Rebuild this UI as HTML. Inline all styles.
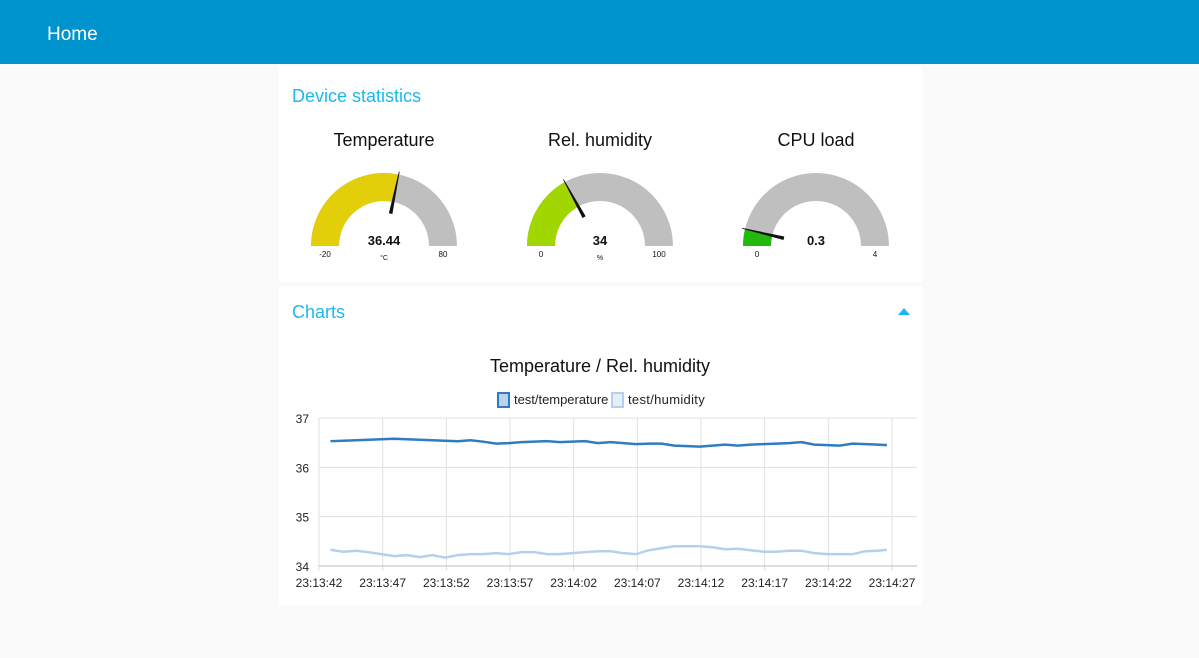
<!DOCTYPE html>
<html><head><meta charset="utf-8"><style>
body{margin:0;width:1199px;height:658px;background:#fafafa;font-family:"Liberation Sans",sans-serif;overflow:hidden;position:relative}
.hdr{position:absolute;left:0;top:0;width:1199px;height:64px;background:#0094ce}
.hdr span{position:absolute;left:47px;top:24px;color:#fff;font-size:19px}
.card{position:absolute;left:279px;width:643px;background:#fff}
.ct{position:absolute;left:13px;color:#1bb8f0;font-size:18px}
</style></head><body>
<div class="hdr"><span>Home</span></div>
<div class="card" style="top:66px;height:216px">
<div class="ct" style="top:20px">Device statistics</div>
</div>
<div class="card" style="top:287px;height:319px">
<div class="ct" style="top:15px">Charts</div>
<div style="position:absolute;left:619px;top:21px;width:0;height:0;border-left:6px solid transparent;border-right:6px solid transparent;border-bottom:7px solid #1bb8f0"></div>
</div>
<svg id="g" width="1199" height="658" style="position:absolute;left:0;top:0" font-family="Liberation Sans, sans-serif"></svg>
<script>
const gaugeNames=["Temperature","Rel. humidity","CPU load"];
const gaugeValues=[36.44,34,0.3];
const gaugeMins=[-20,0,0];
const gaugeMaxs=[80,100,4];
const gaugeUnits=["°C","%",""];
const gaugeLabels=["36.44","34","0.3"];
const gaugeColors=["#e2cf0a","#a1d600","#22b80c"];

const timeLabels=["23:13:42","23:13:47","23:13:52","23:13:57","23:14:02","23:14:07","23:14:12","23:14:17","23:14:22","23:14:27"];
const yTicks=[34,35,36,37];
const sampleTimes=[0.9,1.9,2.9,3.9,4.9,5.9,6.9,7.9,8.9,9.9,10.9,11.9,12.9,13.9,14.9,15.9,16.9,17.9,18.9,19.9,20.9,21.9,22.9,23.9,24.9,25.9,26.9,27.9,28.9,29.9,30.9,31.9,32.9,33.9,34.9,35.9,36.9,37.9,38.9,39.9,40.9,41.9,42.9,43.9,44.6];
const temperature=[36.53,36.54,36.55,36.56,36.57,36.58,36.57,36.56,36.55,36.54,36.53,36.55,36.52,36.48,36.49,36.51,36.52,36.53,36.51,36.52,36.53,36.49,36.51,36.49,36.47,36.48,36.48,36.44,36.43,36.42,36.44,36.46,36.44,36.46,36.47,36.48,36.49,36.51,36.46,36.45,36.44,36.48,36.47,36.46,36.45];
const humidity=[34.33,34.29,34.31,34.28,34.24,34.20,34.22,34.18,34.22,34.17,34.22,34.24,34.24,34.26,34.24,34.28,34.28,34.24,34.24,34.26,34.28,34.30,34.30,34.26,34.24,34.32,34.36,34.40,34.40,34.40,34.38,34.34,34.35,34.32,34.29,34.29,34.31,34.31,34.26,34.24,34.24,34.24,34.30,34.31,34.33];

const svg=document.getElementById('g');const NS='http://www.w3.org/2000/svg';
function mk(t,a,p){const e=document.createElementNS(NS,t);for(const k in a)e.setAttribute(k,a[k]);(p||svg).appendChild(e);return e;}
function arc(cx,cy,ro,ri,a0,a1){const p=(r,a)=>[cx+r*Math.cos(a),cy-r*Math.sin(a)];const[x0,y0]=p(ro,a0),[x1,y1]=p(ro,a1),[x2,y2]=p(ri,a1),[x3,y3]=p(ri,a0);return `M${x0},${y0}A${ro},${ro} 0 0 1 ${x1},${y1}L${x2},${y2}A${ri},${ri} 0 0 0 ${x3},${y3}Z`;}
const gcx=[384,600,816];
gaugeNames.forEach((n,i)=>{
 const cx=gcx[i],cy=246,ro=73,ri=45;
 const g=mk('g',{});
 
 
 let t=mk('text',{x:cx,y:146,'text-anchor':'middle','font-size':18,fill:'#111'},g);t.textContent=n;
 const f=(gaugeValues[i]-gaugeMins[i])/(gaugeMaxs[i]-gaugeMins[i]);const a=Math.PI*(1-f);
 mk('path',{d:arc(cx,cy,ro,ri,Math.PI,0),fill:'#bfbfbf'},g);
 mk('path',{d:arc(cx,cy,ro,ri,Math.PI,a),fill:gaugeColors[i]},g);
 const nx=Math.cos(a),ny=-Math.sin(a),px=-ny,py=nx;
 const bx=cx+33*nx,by=cy+33*ny,ex=cx+76*nx,ey=cy+76*ny;
 mk('polygon',{points:`${bx+1.8*px},${by+1.8*py} ${bx-1.8*px},${by-1.8*py} ${ex-0.4*px},${ey-0.4*py} ${ex+0.4*px},${ey+0.4*py}`,fill:'#111'},g);
 t=mk('text',{x:cx,y:245,'text-anchor':'middle','font-size':13,'font-weight':'bold',fill:'#111'},g);t.textContent=gaugeLabels[i];
 t=mk('text',{x:cx,y:260,'text-anchor':'middle','font-size':7,fill:'#111'},g);t.textContent=gaugeUnits[i];
 t=mk('text',{x:cx-59,y:257,'text-anchor':'middle','font-size':8,fill:'#111'},g);t.textContent=gaugeMins[i];
 t=mk('text',{x:cx+59,y:257,'text-anchor':'middle','font-size':8,fill:'#111'},g);t.textContent=gaugeMaxs[i];
});
// chart
const X0=319,XS=(892-319)/45,Y0=566,YS=(566-418)/3;
const xs=s=>X0+s*XS, ys=v=>Y0-(v-34)*YS;
let t=mk('text',{x:600,y:372,'text-anchor':'middle','font-size':18,fill:'#111'});t.textContent="Temperature / Rel. humidity";

const lg=[["test/temperature","#2f7dc0","#b9d3ea",498],["test/humidity","#b5d0ee","#e6eef9",612]];
lg.forEach(l=>{const r=mk('rect',{x:l[3],y:393,width:11,height:14,fill:l[2],stroke:l[1],'stroke-width':2});

const tt=mk('text',{x:l[3]+16,y:404,'font-size':13,fill:'#222','textLength':l[0].length*5.9});tt.textContent=l[0];
});
yTicks.forEach(v=>{const y=ys(v);mk('line',{x1:X0,x2:917,y1:y,y2:y,stroke:'#e0e0e0'});
const tx=mk('text',{x:309,y:y+5,'text-anchor':'end','font-size':12,fill:'#222'});tx.textContent=v;
});
timeLabels.forEach((l,i)=>{const x=xs(i*5);mk('line',{x1:x,x2:x,y1:418,y2:571,stroke:'#e0e0e0'});
const tx=mk('text',{x:x,y:587,'text-anchor':'middle','font-size':12,fill:'#222'});tx.textContent=l;
});
mk('line',{x1:X0,x2:917,y1:Y0,y2:Y0,stroke:'#bbb'});
function line(vals,c,name){const p=mk('polyline',{points:vals.map((v,i)=>xs(sampleTimes[i])+','+ys(v)).join(' '),fill:'none',stroke:c,'stroke-width':2.5});
}
line(temperature,'#2f7dc0','temperature-line');
line(humidity,'#b5d0ee','humidity-line');
</script>
</body></html>
